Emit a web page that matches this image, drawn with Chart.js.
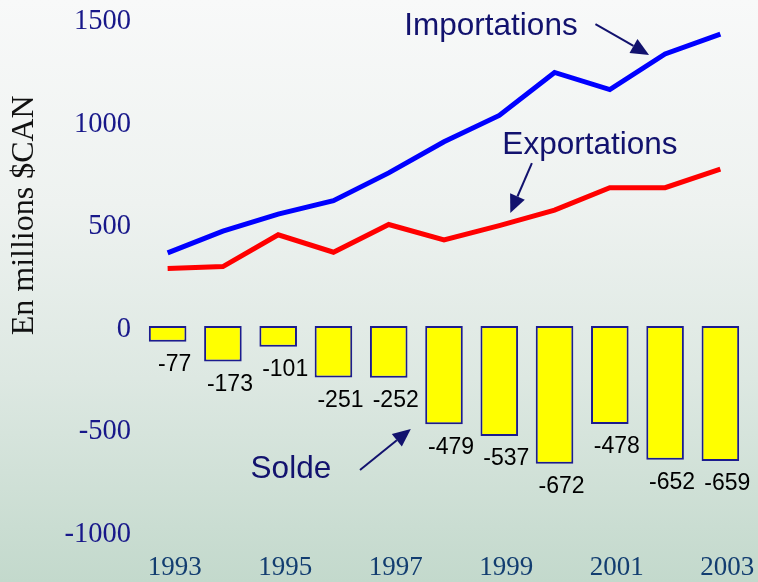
<!DOCTYPE html>
<html>
<head>
<meta charset="utf-8">
<script src="https://cdn.jsdelivr.net/npm/chart.js@4/dist/chart.umd.min.js"></script>
<style>
  html, body { margin: 0; padding: 0; }
  body {
    width: 758px; height: 582px; overflow: hidden;
    background: linear-gradient(to bottom, #f8f9f9 0%, #eef2f0 35%, #dde8e2 65%, #c3d9cc 100%);
  }
  canvas { display: block; }
</style>
</head>
<body>
<canvas id="c" width="758" height="582"></canvas>
<script>
// ---- Data (millions $CAN) ----
const years = ['1993','1994','1995','1996','1997','1998','1999','2000','2001','2002','2003'];
const exportations = [280, 290, 445, 360, 495, 420, 490, 565, 675, 675, 765];
const importations = [357, 463, 546, 611, 747, 899, 1027, 1237, 1153, 1327, 1424];
const solde = [-77, -173, -101, -251, -252, -479, -537, -672, -478, -652, -659];
const yTicks = [-1000, -500, 0, 500, 1000, 1500];
const yTitle = 'En millions $CAN';

// Annotations placed in data space: [categoryIndex, value]
const annotations = [
  { text: 'Importations', at: [5.85, 1471], from: [7.74, 1473], to: [8.71, 1322] },
  { text: 'Exportations', at: [7.64, 893], from: [6.59, 795], to: [6.20, 551] },
  { text: 'Solde', at: [2.23, -688], from: [3.48, -702], to: [4.40, -502] }
];

const NAVY = '#12126e';

const overlay = {
  id: 'overlay',
  afterDatasetsDraw(chart) {
    const ctx = chart.ctx;
    const xs = chart.scales.x, ys = chart.scales.y;
    // bar value labels
    const meta = chart.getDatasetMeta(0);
    ctx.save();
    ctx.font = '23px "Liberation Sans", Arial, sans-serif';
    ctx.fillStyle = '#000';
    ctx.textAlign = 'center';
    ctx.textBaseline = 'middle';
    meta.data.forEach((bar, i) => {
      ctx.fillText(String(solde[i]), bar.x + 7, bar.y + 23);
    });
    ctx.restore();

    // annotations with arrows
    const px = p => [xs.getPixelForValue(p[0]), ys.getPixelForValue(p[1])];
    ctx.save();
    ctx.font = '31.5px "Liberation Sans", Arial, sans-serif';
    ctx.fillStyle = NAVY;
    ctx.strokeStyle = NAVY;
    ctx.textAlign = 'center';
    ctx.textBaseline = 'middle';
    annotations.forEach(a => {
      const [tx, ty] = px(a.at);
      ctx.fillText(a.text, tx, ty + 2);
      const [x1, y1] = px(a.from);
      const [x2, y2] = px(a.to);
      const ang = Math.atan2(y2 - y1, x2 - x1);
      const hl = 18, hw = 8;
      const bx = x2 - hl * Math.cos(ang), by = y2 - hl * Math.sin(ang);
      ctx.lineWidth = 2;
      ctx.beginPath();
      ctx.moveTo(x1, y1);
      ctx.lineTo(bx, by);
      ctx.stroke();
      ctx.beginPath();
      ctx.moveTo(x2, y2);
      ctx.lineTo(bx + hw * Math.sin(ang), by - hw * Math.cos(ang));
      ctx.lineTo(bx - hw * Math.sin(ang), by + hw * Math.cos(ang));
      ctx.closePath();
      ctx.fill();
    });
    ctx.restore();

    // y axis title
    ctx.save();
    ctx.font = '32px "Liberation Serif", "Times New Roman", serif';
    ctx.fillStyle = '#111';
    ctx.textAlign = 'center';
    ctx.textBaseline = 'middle';
    ctx.translate(25, ys.getPixelForValue(540));
    ctx.rotate(-Math.PI / 2);
    ctx.fillText(yTitle, 0, 0);
    ctx.restore();
  }
};

new Chart(document.getElementById('c'), {
  data: {
    labels: years,
    datasets: [
      {
        type: 'bar',
        label: 'Solde',
        data: solde,
        backgroundColor: '#ffff00',
        borderColor: '#1c1c8e',
        borderWidth: 2,
        borderSkipped: false,
        barPercentage: 0.68,
        categoryPercentage: 1.0,
        order: 2
      },
      {
        type: 'line',
        label: 'Importations',
        data: importations,
        borderColor: '#0000ff',
        borderWidth: 5,
        pointRadius: 0,
        tension: 0,
        fill: false,
        order: 1
      },
      {
        type: 'line',
        label: 'Exportations',
        data: exportations,
        borderColor: '#ff0000',
        borderWidth: 5,
        pointRadius: 0,
        tension: 0,
        fill: false,
        order: 1
      }
    ]
  },
  options: {
    responsive: false,
    devicePixelRatio: 1,
    animation: false,
    layout: { padding: { top: 18.5, right: 10, left: 0, bottom: 0 } },
    plugins: {
      legend: { display: false },
      tooltip: { enabled: false },
      title: { display: false }
    },
    scales: {
      x: {
        type: 'category',
        offset: true,
        grid: { display: false, drawTicks: false, tickLength: 0 },
        border: { display: false },
        ticks: {
          autoSkip: false,
          maxRotation: 0,
          padding: 21,
          labelOffset: 7,
          color: '#123d70',
          font: { family: '"Liberation Serif", "Times New Roman", serif', size: 27 },
          callback: function (v, i) { return i % 2 === 0 ? this.getLabelForValue(v) : ''; }
        },
        afterFit: s => { s.height = 51; s.paddingLeft = 0; s.paddingRight = 0; }
      },
      y: {
        min: -1000,
        max: 1500,
        afterBuildTicks: s => { s.ticks = yTicks.map(v => ({ value: v })); },
        grid: { display: false, drawTicks: false, tickLength: 0 },
        border: { display: false },
        ticks: {
          padding: 9,
          labelOffset: 3.5,
          color: '#18188a',
          font: { family: '"Liberation Serif", "Times New Roman", serif', size: 28.5 },
          callback: v => String(v)
        },
        afterFit: s => { s.width = 140; s.paddingTop = 0; s.paddingBottom = 0; }
      }
    }
  },
  plugins: [overlay]
});
</script>
</body>
</html>
